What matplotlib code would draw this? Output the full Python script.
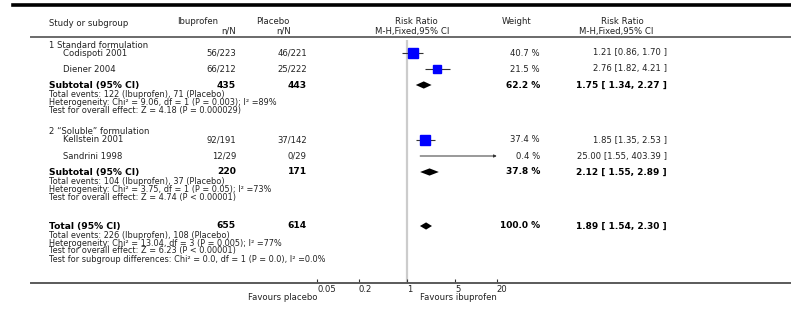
import matplotlib
matplotlib.use('Agg')
import matplotlib.pyplot as plt
from matplotlib.lines import Line2D
import numpy as np

# study level data
studies = ['Codispoti 2001', 'Diener 2004', 'Kellstein 2001', 'Sandrini 1998']
ibu_events = [56, 66, 92, 12]
ibu_total = [223, 212, 191, 29]
pla_events = [46, 25, 37, 0]
pla_total = [221, 222, 142, 29]
weights = [40.7, 21.5, 37.4, 0.4]
rr = [1.21, 2.76, 1.85, 25.00]
rr_lo = [0.86, 1.82, 1.35, 1.55]
rr_hi = [1.70, 4.21, 2.53, 403.39]

# subgroups
groups = ['1 Standard formulation', '2 \u201cSoluble\u201d formulation']
sub_ibu_n = [435, 220]
sub_pla_n = [443, 171]
sub_weight = [62.2, 37.8]
sub_rr = [1.75, 2.12]
sub_lo = [1.34, 1.55]
sub_hi = [2.27, 2.89]
sub_notes = [
    ['Total events: 122 (Ibuprofen), 71 (Placebo)',
     'Heterogeneity: Chi\u00b2 = 9.06, df = 1 (P = 0.003); I\u00b2 =89%',
     'Test for overall effect: Z = 4.18 (P = 0.000029)'],
    ['Total events: 104 (Ibuprofen), 37 (Placebo)',
     'Heterogeneity: Chi\u00b2 = 3.75, df = 1 (P = 0.05); I\u00b2 =73%',
     'Test for overall effect: Z = 4.74 (P < 0.00001)'],
]

# overall
tot_ibu_n = 655
tot_pla_n = 614
tot_weight = 100.0
tot_rr, tot_lo, tot_hi = 1.89, 1.54, 2.30
tot_notes = ['Total events: 226 (Ibuprofen), 108 (Placebo)',
             'Heterogeneity: Chi\u00b2 = 13.04, df = 3 (P = 0.005); I\u00b2 =77%',
             'Test for overall effect: Z = 6.23 (P < 0.00001)',
             'Test for subgroup differences: Chi\u00b2 = 0.0, df = 1 (P = 0.0), I\u00b2 =0.0%']

ticks = [0.05, 0.2, 1, 5, 20]
tick_labels = ['0.05', '0.2', '1', '5', '20']
xmax_show = 20

# layout (pixel rows / columns)
W, H = 791, 332
group_y = [45, 131]
study_y = [[53, 69], [140, 156]]
sub_y = [85, 172]
tot_y = 226
note_dy = 8
x_name, x_study = 49, 63
x_ibu, x_pla = 236, 307
x_w, x_rr = 540, 667
px_per_dec = 69
x_null = 407
fs = 6.1
fs_note = 5.9
fs_bold = 6.6
fs_bold2 = 6.5
ink = '#222222'


def fx(x):
    return x / W


def fy(y):
    return 1 - y / H


plt.rcParams['font.family'] = ['DejaVu Sans']
fig = plt.figure(figsize=(W / 100, H / 100), dpi=100)

# forest panel: log scale, rows in pixel units
ax = fig.add_axes([fx(31), fy(283), fx(W - 31), (283 - 40) / H])
ax.set_xscale('log')
ax.set_xlim(10 ** ((31 - x_null) / px_per_dec), 10 ** ((W - x_null) / px_per_dec))
ax.set_ylim(283, 40)
for s in ['top', 'left', 'right']:
    ax.spines[s].set_visible(False)
ax.spines['bottom'].set_color('#5a5a5a')
ax.spines['bottom'].set_linewidth(1.4)
ax.set_yticks([])
ax.set_xticks(ticks)
ax.set_xticklabels(tick_labels)
ax.minorticks_off()
ax.tick_params(axis='x', direction='in', length=3, width=0.8, color='#333333',
               labelsize=fs, pad=1.5, labelcolor=ink)
for lbl in ax.get_xticklabels():
    lbl.set_ha('left')
ax.axvline(1, color='#cccccc', lw=1.6, zorder=0)
ax.text(0.05, 298, 'Favours placebo', ha='right', va='center', fontsize=fs,
        color=ink, clip_on=False)
ax.text(20, 298, 'Favours ibuprofen', ha='right', va='center', fontsize=fs,
        color=ink, clip_on=False)


def diamond(est, lo, hi, y, h=3.6):
    ax.fill([lo, est, hi, est], [y, y - h, y, y + h], color='black', lw=0, zorder=3)


txt = dict(fontsize=fs, color=ink, va='center')
bold = dict(fontsize=fs_bold, weight='bold', va='center')
bold2 = dict(fontsize=fs_bold2, weight='bold', va='center')
k = 0
for g in range(2):
    fig.text(fx(x_name), fy(group_y[g]), groups[g], ha='left', **txt)
    for j in range(2):
        y = study_y[g][j]
        fig.text(fx(x_study), fy(y), studies[k], ha='left', **txt)
        fig.text(fx(x_ibu), fy(y), f'{ibu_events[k]}/{ibu_total[k]}', ha='right', **txt)
        fig.text(fx(x_pla), fy(y), f'{pla_events[k]}/{pla_total[k]}', ha='right', **txt)
        fig.text(fx(x_w), fy(y), f'{weights[k]:.1f} %', ha='right', **txt)
        fig.text(fx(x_rr), fy(y), f'{rr[k]:.2f} [{rr_lo[k]:.2f}, {rr_hi[k]:.2f} ]',
                 ha='right', **txt)
        hi = min(rr_hi[k], xmax_show)
        if rr_hi[k] > xmax_show:
            # interval runs off the scale: draw an arrow to the edge
            ax.annotate('', xy=(hi, y), xytext=(rr_lo[k], y),
                        arrowprops=dict(arrowstyle='-|>', lw=0.7, color='#333333',
                                        mutation_scale=4, shrinkA=0, shrinkB=0))
        else:
            ax.hlines(y, rr_lo[k], hi, color='#333333', lw=0.8, zorder=2)
        if rr[k] <= xmax_show:
            side = 1.7 * np.sqrt(weights[k])
            ax.plot(rr[k], y, 's', ms=side * 0.72, color='#0000ff', mec='#0000ff',
                    zorder=3)
        k += 1

    y = sub_y[g]
    fig.text(fx(x_name), fy(y), 'Subtotal (95% CI)', ha='left', **bold)
    fig.text(fx(x_ibu), fy(y), str(sub_ibu_n[g]), ha='right', **bold)
    fig.text(fx(x_pla), fy(y), str(sub_pla_n[g]), ha='right', **bold)
    fig.text(fx(x_w), fy(y), f'{sub_weight[g]:.1f} %', ha='right', **bold2)
    fig.text(fx(x_rr), fy(y), f'{sub_rr[g]:.2f} [ {sub_lo[g]:.2f}, {sub_hi[g]:.2f} ]',
             ha='right', **bold2)
    diamond(sub_rr[g], sub_lo[g], sub_hi[g], y)
    for i, note in enumerate(sub_notes[g]):
        fig.text(fx(x_name), fy(y + 9.5 + i * note_dy), note, ha='left',
                 fontsize=fs_note, color=ink, va='center')

y = tot_y
fig.text(fx(x_name), fy(y), 'Total (95% CI)', ha='left', **bold)
fig.text(fx(x_ibu), fy(y), str(tot_ibu_n), ha='right', **bold)
fig.text(fx(x_pla), fy(y), str(tot_pla_n), ha='right', **bold)
fig.text(fx(x_w), fy(y), f'{tot_weight:.1f} %', ha='right', **bold2)
fig.text(fx(x_rr), fy(y), f'{tot_rr:.2f} [ {tot_lo:.2f}, {tot_hi:.2f} ]',
         ha='right', **bold2)
diamond(tot_rr, tot_lo, tot_hi, y)
for i, note in enumerate(tot_notes):
    fig.text(fx(x_name), fy(y + 9 + i * note_dy), note, ha='left',
             fontsize=fs_note, color=ink, va='center')

# column headers
hdr = dict(fontsize=fs, color=ink, va='center', ha='center')
fig.text(fx(x_name), fy(23), 'Study or subgroup', **{**hdr, 'ha': 'left'})
fig.text(fx(198), fy(22), 'Ibuprofen', **hdr)
fig.text(fx(229), fy(31.5), 'n/N', **hdr)
fig.text(fx(273), fy(22), 'Placebo', **hdr)
fig.text(fx(284), fy(31.5), 'n/N', **hdr)
fig.text(fx(416), fy(22), 'Risk Ratio', **hdr)
fig.text(fx(412), fy(31.5), 'M-H,Fixed,95% CI', **hdr)
fig.text(fx(517), fy(22), 'Weight', **hdr)
fig.text(fx(622), fy(22), 'Risk Ratio', **hdr)
fig.text(fx(616), fy(31.5), 'M-H,Fixed,95% CI', **hdr)

# rules
fig.add_artist(Line2D([fx(13), 1], [fy(5), fy(5)], lw=2.6, color='black'))
fig.add_artist(Line2D([fx(31), 1], [fy(37), fy(37)], lw=1.4, color='#6a6a6a'))

fig.savefig('out.png', dpi=100, facecolor='white')
